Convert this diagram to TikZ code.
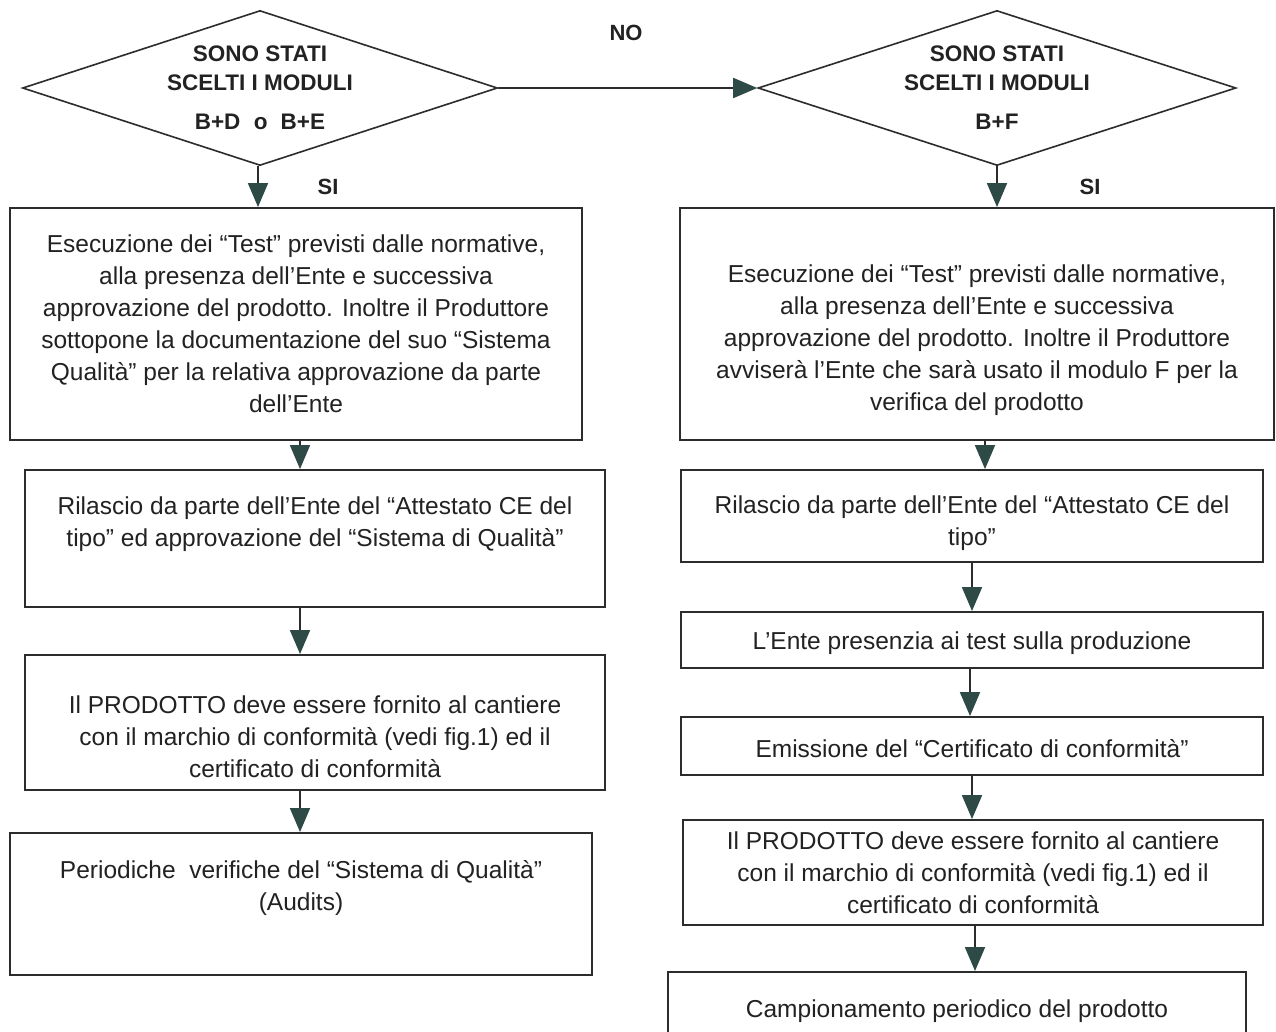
\documentclass[tikz,border=0pt]{standalone}
\usepackage{fontspec}
\setmainfont{Liberation Sans}
\usetikzlibrary{shapes.geometric,arrows.meta,calc}
\definecolor{ink}{HTML}{222222}
\definecolor{linec}{HTML}{2C2C2C}
\definecolor{tipc}{HTML}{2E4A47}
\tikzset{
  box/.style={draw=linec, line width=1.9pt, rectangle, inner sep=0pt},
  txt/.style={text=ink, align=center, font=\fontsize{24.5}{32}\selectfont, inner sep=0pt},
  dec/.style={draw=linec, line width=1.6pt, shape=diamond, shape aspect=3, inner sep=0pt,
     text=ink, align=center, font=\bfseries\fontsize{22.5}{29}\selectfont},
  lab/.style={text=ink, font=\bfseries\fontsize{22}{25}\selectfont, inner sep=0pt},
  arr/.style={draw=linec, line width=1.8pt, -{Triangle[width=20pt,length=24pt,fill=tipc,color=tipc]}},
}
\begin{document}
\begin{tikzpicture}[x=1pt,y=-1pt]
\useasboundingbox (0,0) rectangle (1276,1031);
\clip (0,0) rectangle (1276,1031);
\fill[white] (0,0) rectangle (1276,1031);

% decisions
\node[dec, minimum width=475pt, minimum height=155pt] (d1) at (260,88)
  {SONO STATI\\ SCELTI I MODULI\\[10pt] B+D\hspace{0.6em}o\hspace{0.3em} B+E};
\node[dec, minimum width=478pt, minimum height=155pt] (d2) at (997,88)
  {SONO STATI\\ SCELTI I MODULI\\[10pt] B+F};
\node[lab] (no) at (626,33) {NO};
\node[lab] (si1) at (328,187) {SI};
\node[lab] (si2) at (1090,187) {SI};

% left column
\node[box, minimum width=572pt, minimum height=232pt] (l1) at (296,324) {};
\node[txt] (l1t) at (l1.center) {Esecuzione dei “Test” previsti dalle normative,\\
alla presenza dell’Ente e successiva\\
approvazione del prodotto. Inoltre il Produttore\\
sottopone la documentazione del suo “Sistema\\
Qualità” per la relativa approvazione da parte\\
dell’Ente};

\node[box, minimum width=580pt, minimum height=137pt] (l2) at (315,538.5) {};
\node[txt] (l2t) at ($(l2.center)+(0,-14)$) {Rilascio da parte dell’Ente del “Attestato CE del\\
tipo” ed approvazione del “Sistema di Qualità”};

\node[box, minimum width=580pt, minimum height=135pt] (l3) at (315,722.5) {};
\node[txt] (l3t) at ($(l3.center)+(0,14)$) {Il PRODOTTO deve essere fornito al cantiere\\
con il marchio di conformità (vedi fig.1) ed il\\
certificato di conformità};

\node[box, minimum width=582pt, minimum height=142pt] (l4) at (301,904) {};
\node[txt] (l4t) at ($(l4.center)+(0,-16)$) {Periodiche\ \ verifiche del “Sistema di Qualità”\\
(Audits)};

% right column
\node[box, minimum width=594pt, minimum height=232pt] (r1) at (977,324) {};
\node[txt] (r1t) at ($(r1.center)+(0,16)$) {Esecuzione dei “Test” previsti dalle normative,\\
alla presenza dell’Ente e successiva\\
approvazione del prodotto. Inoltre il Produttore\\
avviserà l’Ente che sarà usato il modulo F per la\\
verifica del prodotto};

\node[box, minimum width=582pt, minimum height=92pt] (r2) at (972,516) {};
\node[txt] (r2t) at ($(r2.center)+(0,7)$) {Rilascio da parte dell’Ente del “Attestato CE del\\
tipo”};

\node[box, minimum width=582pt, minimum height=56pt] (r3) at (972,640) {};
\node[txt] (r3t) at ($(r3.center)+(0,3)$) {L’Ente presenzia ai test sulla produzione};

\node[box, minimum width=582pt, minimum height=58pt] (r4) at (972,746) {};
\node[txt] (r4t) at ($(r4.center)+(0,3)$) {Emissione del “Certificato di conformità”};

\node[box, minimum width=580pt, minimum height=105pt] (r5) at (973,872.5) {};
\node[txt] (r5t) at (r5.center) {Il PRODOTTO deve essere fornito al cantiere\\
con il marchio di conformità (vedi fig.1) ed il\\
certificato di conformità};

\node[box, minimum width=578pt, minimum height=84pt] (r6) at (957,1014) {};
\node[txt] (r6t) at ($(r6.north)+(0,40)$) {Campionamento periodico del prodotto};

% connectors
\draw[arr] (d1.east) -- (d2.west);
\draw[arr] ([xshift=-2pt]d1.south) -- ([xshift=-2pt]d1.south |- l1.north);
\draw[arr] ([xshift=4pt]l1.south) -- ([xshift=4pt]l1.south |- l2.north);
\draw[arr] ([xshift=-15pt]l2.south) -- ([xshift=-15pt]l2.south |- l3.north);
\draw[arr] ([xshift=-15pt]l3.south) -- ([xshift=-15pt]l3.south |- l4.north);

\draw[arr] (d2.south) -- (d2.south |- r1.north);
\draw[arr] ([xshift=8pt]r1.south) -- ([xshift=8pt]r1.south |- r2.north);
\draw[arr] ([xshift=0pt]r2.south) -- ([xshift=0pt]r2.south |- r3.north);
\draw[arr] ([xshift=-2pt]r3.south) -- ([xshift=-2pt]r3.south |- r4.north);
\draw[arr] ([xshift=0pt]r4.south) -- ([xshift=0pt]r4.south |- r5.north);
\draw[arr] ([xshift=2pt]r5.south) -- ([xshift=2pt]r5.south |- r6.north);
\end{tikzpicture}
\end{document}
